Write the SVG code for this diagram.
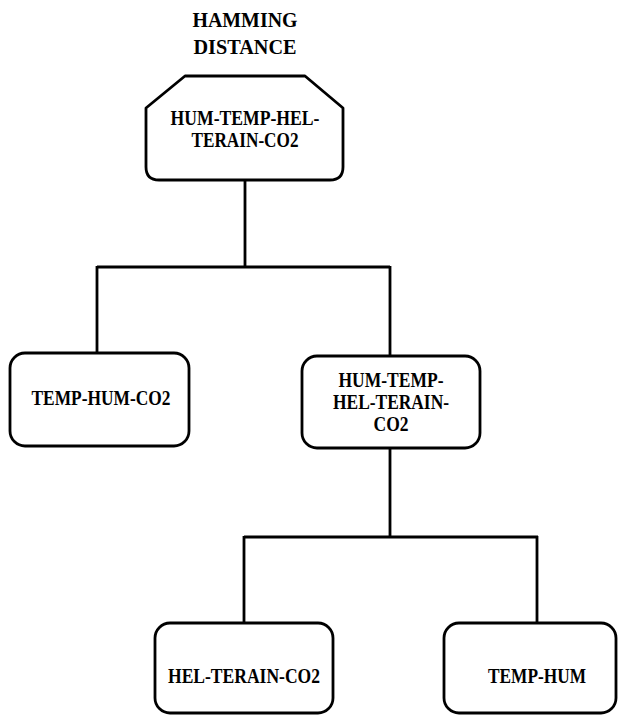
<svg xmlns="http://www.w3.org/2000/svg" width="618" height="715" viewBox="0 0 618 715">
<style>
.box{fill:#fff;stroke:#000;stroke-width:2.8;stroke-linejoin:round}
.ln{fill:none;stroke:#000;stroke-width:2.8}
text{font-family:"Liberation Serif","Times New Roman",serif;font-weight:bold;font-size:21px;fill:#000;text-anchor:middle}
</style>
<rect width="618" height="715" fill="#fff"/>
<g id="title">
<text x="245" y="27" textLength="105" lengthAdjust="spacingAndGlyphs">HAMMING</text>
<text x="245" y="54" textLength="103" lengthAdjust="spacingAndGlyphs">DISTANCE</text>
</g>
<g id="connectors">
<path class="ln" d="M245,180 V267 M97,267 H390 M97,266 V353 M390,266 V356"/>
<path class="ln" d="M390,448 V537 M244,537 H538 M244,536 V623 M537,536 V623"/>
</g>
<g id="root">
<path class="box" d="M185,76 L305,76 L343,108 L343,167 Q343,180 330,180 L159,180 Q146,180 146,167 L146,108 Z"/>
<text x="245" y="125" textLength="149" lengthAdjust="spacingAndGlyphs">HUM-TEMP-HEL-</text>
<text x="245" y="147" textLength="107" lengthAdjust="spacingAndGlyphs">TERAIN-CO2</text>
</g>
<g id="n-temp-hum-co2">
<rect class="box" x="10" y="353" width="179" height="93" rx="15"/>
<text x="101" y="405" textLength="139" lengthAdjust="spacingAndGlyphs">TEMP-HUM-CO2</text>
</g>
<g id="n-hum-temp-hel-terain-co2">
<rect class="box" x="302" y="356" width="178" height="92" rx="15"/>
<text x="391" y="387" textLength="105" lengthAdjust="spacingAndGlyphs">HUM-TEMP-</text>
<text x="391" y="409" textLength="116" lengthAdjust="spacingAndGlyphs">HEL-TERAIN-</text>
<text x="391" y="431" textLength="35" lengthAdjust="spacingAndGlyphs">CO2</text>
</g>
<g id="n-hel-terain-co2">
<rect class="box" x="155" y="623" width="178" height="90" rx="15"/>
<text x="244" y="683" textLength="152" lengthAdjust="spacingAndGlyphs">HEL-TERAIN-CO2</text>
</g>
<g id="n-temp-hum">
<rect class="box" x="444" y="623" width="172" height="90" rx="15"/>
<text x="537" y="683" textLength="98" lengthAdjust="spacingAndGlyphs">TEMP-HUM</text>
</g>
</svg>
